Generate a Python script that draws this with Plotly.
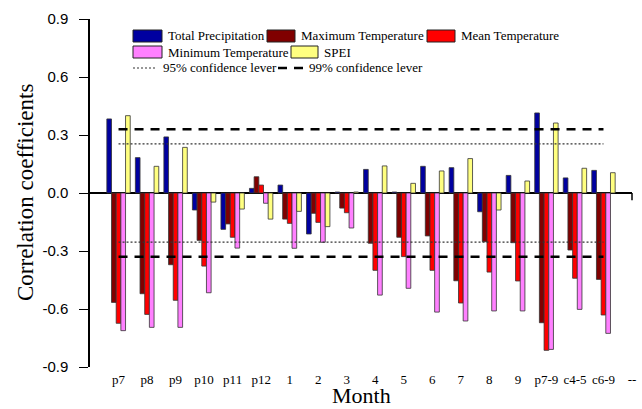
import plotly.graph_objects as go

# ---------------- data ----------------
months = ["p7", "p8", "p9", "p10", "p11", "p12", "1", "2", "3", "4", "5", "6",
          "7", "8", "9", "p7-9", "c4-5", "c6-9"]
tick_labels = months + ["--"]

total_precip = [0.383, 0.183, 0.290, -0.088, -0.188, 0.024, 0.041, -0.212, 0.005,
                0.122, 0.005, 0.138, 0.131, -0.097, 0.091, 0.414, 0.078, 0.117]
max_temp = [-0.566, -0.521, -0.371, -0.245, -0.160, 0.084, -0.135, -0.105, -0.078,
            -0.260, -0.229, -0.222, -0.454, -0.252, -0.257, -0.671, -0.295, -0.447]
mean_temp = [-0.674, -0.628, -0.555, -0.378, -0.229, 0.041, -0.157, -0.152, -0.102,
             -0.400, -0.329, -0.400, -0.569, -0.409, -0.455, -0.814, -0.441, -0.631]
min_temp = [-0.712, -0.695, -0.695, -0.516, -0.285, -0.053, -0.286, -0.255, -0.181,
            -0.528, -0.493, -0.616, -0.662, -0.610, -0.610, -0.809, -0.602, -0.726]
spei = [0.400, 0.138, 0.236, -0.047, -0.083, -0.135, -0.095, -0.174, 0.005,
        0.140, 0.050, 0.114, 0.178, -0.088, 0.062, 0.362, 0.128, 0.105]

conf95 = 0.254
conf99 = 0.330

series_names = ["Total Precipitation", "Maximum Temperature", "Mean Temperature",
                "Minimum Temperature", "SPEI"]
series_values = [total_precip, max_temp, mean_temp, min_temp, spei]
series_colors = ["#0000A0", "#800000", "#FF0000", "#FF80FF", "#FFFF80"]

y_ticks = [-0.9, -0.6, -0.3, 0.0, 0.3, 0.6, 0.9]

# ---------------- figure ----------------
W, H = 642, 409
ML, MR, MT, MB = 90, 10, 19, 42

x_idx = list(range(len(months)))
fig = go.Figure()

for name, vals, col in zip(series_names, series_values, series_colors):
    fig.add_trace(go.Bar(
        x=x_idx, y=vals, name=name,
        marker=dict(color=col, line=dict(color="#333333", width=0.8)),
        showlegend=False,
    ))

for lvl, dash, width, color in [(conf95, "2px,2px", 1.2, "#333333"),
                                (conf99, "9px,7px", 2.4, "#000000")]:
    for sgn in (1, -1):
        fig.add_trace(go.Scatter(
            x=[x_idx[0], x_idx[-1]], y=[sgn * lvl, sgn * lvl], mode="lines",
            line=dict(color=color, width=width, dash=dash),
            showlegend=False, hoverinfo="skip",
        ))

# ---------- custom legend (pixel layout -> paper coords) ----------
pw = W - ML - MR
ph = H - MT - MB


def px(x):
    return (x - ML) / pw


def py(y):
    return (H - MB - y) / ph


shapes = []
annotations = []
legend_font = dict(family="Liberation Serif", size=13, color="black")

boxes = [
    (0, 133, 30, 162, 42, 166),
    (1, 267, 30, 295, 42, 299),
    (2, 427, 30, 455, 42, 459),
    (3, 133, 46, 162, 58, 166),
    (4, 291, 46, 318, 58, 322),
]
for si, x0, y0, x1, y1, tx in boxes:
    shapes.append(dict(type="rect", xref="paper", yref="paper",
                       x0=px(x0), x1=px(x1), y0=py(y1), y1=py(y0),
                       fillcolor=series_colors[si],
                       line=dict(color="#222222", width=1)))
    annotations.append(dict(x=px(tx), y=py((y0 + y1) / 2), xref="paper", yref="paper",
                            text=series_names[si], showarrow=False,
                            xanchor="left", yanchor="middle", font=legend_font))

# line samples
shapes.append(dict(type="line", xref="paper", yref="paper",
                   x0=px(133), x1=px(157), y0=py(68), y1=py(68),
                   line=dict(color="#333333", width=1.2, dash="2px,2px")))
annotations.append(dict(x=px(161), y=py(68), xref="paper", yref="paper",
                        text="95% confidence lever", showarrow=False,
                        xanchor="left", yanchor="middle", font=legend_font))
shapes.append(dict(type="line", xref="paper", yref="paper",
                   x0=px(278), x1=px(303), y0=py(68), y1=py(68),
                   line=dict(color="#000000", width=2.4, dash="9px,7px")))
annotations.append(dict(x=px(307), y=py(68), xref="paper", yref="paper",
                        text="99% confidence lever", showarrow=False,
                        xanchor="left", yanchor="middle", font=legend_font))

# axis titles
title_font = dict(family="Liberation Serif", size=22, color="black")
annotations.append(dict(x=px(361), y=py(395), xref="paper", yref="paper",
                        text="Month", showarrow=False,
                        xanchor="center", yanchor="middle", font=title_font))
annotations.append(dict(x=px(25), y=py(193), xref="paper", yref="paper",
                        text="Correlation coefficients", showarrow=False, textangle=-90,
                        xanchor="center", yanchor="middle",
                        font=dict(family="Liberation Serif", size=23, color="black")))

# small end tick on the zero line at right end of x axis
shapes.append(dict(type="line", xref="paper", yref="y",
                   x0=1, x1=1, y0=0, y1=-0.037,
                   line=dict(color="black", width=1.5)))

fig.update_layout(
    width=W, height=H,
    margin=dict(l=ML, r=MR, t=MT, b=MB, pad=0, autoexpand=False),
    paper_bgcolor="white", plot_bgcolor="white",
    barmode="group", bargap=0.18, bargroupgap=0,
    shapes=shapes, annotations=annotations,
    showlegend=False,
)

fig.update_xaxes(
    range=[-1, len(tick_labels) - 1], automargin=False,
    tickmode="array", tickvals=list(range(len(tick_labels))), ticktext=tick_labels,
    showgrid=False, zeroline=False, showline=False, ticks="",
    tickfont=dict(family="Liberation Serif", size=13, color="black"),
    ticklabelstandoff=3,
)
fig.update_yaxes(
    range=[-0.9, 0.9], automargin=False,
    tickmode="array", tickvals=y_ticks, ticktext=[f"{v:.1f}" for v in y_ticks],
    showgrid=False, showline=True, linecolor="black", linewidth=1.5,
    ticks="outside", ticklen=9, tickwidth=1.2, tickcolor="black",
    zeroline=True, zerolinecolor="black", zerolinewidth=1.5,
    tickfont=dict(family="Liberation Sans", size=15, color="black"),
    ticklabelstandoff=8,
)

fig.write_html(
    "out.html",
    config={"displayModeBar": False},
    post_script="document.body.style.margin='0';document.body.style.overflow='hidden';",
)
